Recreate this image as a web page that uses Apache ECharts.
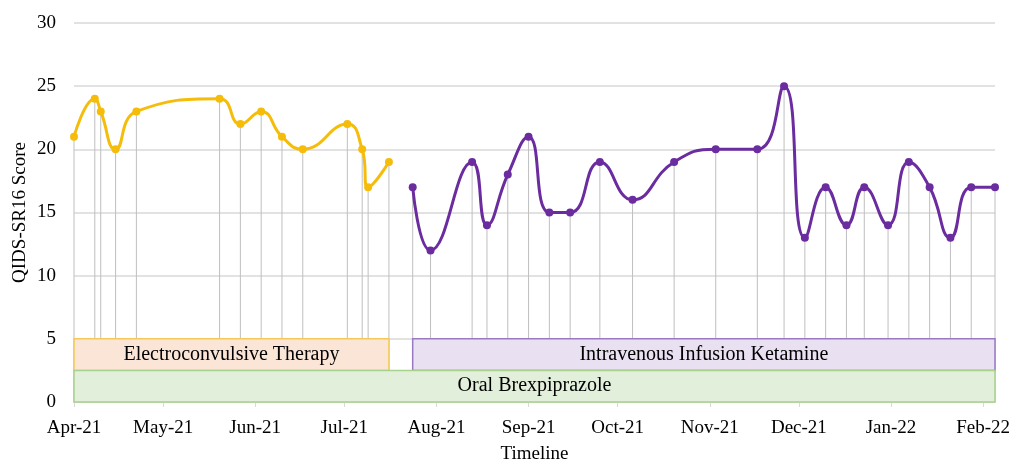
<!DOCTYPE html>
<html>
<head>
<meta charset="utf-8">
<script src="https://cdn.jsdelivr.net/npm/echarts@6/dist/echarts.min.js"></script>
<style>
  html, body { margin: 0; padding: 0; background: #fff; }
  #main { width: 1021px; height: 467px; }
</style>
</head>
<body>
<div id="main"></div>
<script>
// ECT phase scores
var ectDates = ['2021-04-01', '2021-04-08', '2021-04-10', '2021-04-15', '2021-04-22', '2021-05-20', '2021-05-27',
  '2021-06-03', '2021-06-10', '2021-06-17', '2021-07-02', '2021-07-07', '2021-07-09', '2021-07-16'];
var ectScores = [21, 24, 23, 20, 23, 24, 22, 23, 21, 20, 22, 20, 17, 19];

// ketamine phase scores
var ketDates = ['2021-07-24', '2021-07-30', '2021-08-13', '2021-08-18', '2021-08-25', '2021-09-01', '2021-09-08',
  '2021-09-15', '2021-09-25', '2021-10-06', '2021-10-20', '2021-11-03', '2021-11-17', '2021-11-26',
  '2021-12-03', '2021-12-10', '2021-12-17', '2021-12-23', '2021-12-31', '2022-01-07', '2022-01-14',
  '2022-01-21', '2022-01-28', '2022-02-05'];
var ketScores = [17, 12, 19, 14, 18, 21, 15, 15, 19, 16, 19, 20, 20, 25, 13, 17, 14, 17, 14, 19, 17, 13, 17, 17];

// month ticks
var tickDates = ['2021-04-01', '2021-05-01', '2021-06-01', '2021-07-01', '2021-08-01', '2021-09-01',
  '2021-10-01', '2021-11-01', '2021-12-01', '2022-01-01', '2022-02-01'];
var tickLabels = ['Apr-21', 'May-21', 'Jun-21', 'Jul-21', 'Aug-21', 'Sep-21', 'Oct-21', 'Nov-21', 'Dec-21', 'Jan-22', 'Feb-22'];

// treatment bands
var bandNames = ['Electroconvulsive Therapy', 'Intravenous Infusion Ketamine', 'Oral Brexpiprazole'];
var bandStart = ['2021-04-01', '2021-07-24', '2021-04-01'];
var bandEnd = ['2021-07-16', '2022-02-05', '2022-02-05'];
var bandLow = [2.5, 2.5, 0];
var bandHigh = [5, 5, 2.5];

var bandFill = ['#fbe5d6', '#e9e0f2', '#e2efda'];
var bandBorder = ['#f4c95a', '#9a78c2', '#a9d18e'];

var FONT = '"Liberation Serif", "DejaVu Serif", serif';

// day number since axis start, dates on a plain value axis
var DAY = 24 * 3600 * 1000;
var t0 = Date.UTC(2021, 3, 1);
function day(d) {
  var p = d.split('-');
  return (Date.UTC(+p[0], +p[1] - 1, +p[2]) - t0) / DAY;
}

var tickDays = tickDates.map(day);

var ectData = ectDates.map(function (d, i) { return [day(d), ectScores[i]]; });
var ketData = ketDates.map(function (d, i) { return [day(d), ketScores[i]]; });
var dropData = ectData.concat(ketData);

var areas = bandNames.map(function (n, i) {
  return [
    { name: n, xAxis: day(bandStart[i]), yAxis: bandLow[i],
      itemStyle: { color: bandFill[i], borderColor: bandBorder[i], borderWidth: 1.5 } },
    { xAxis: day(bandEnd[i]), yAxis: bandHigh[i] }
  ];
});

var chart = echarts.init(document.getElementById('main'), null, { renderer: 'canvas' });

var option = {
  animation: false,
  backgroundColor: '#fff',
  grid: { left: 74, right: 26, top: 23, bottom: 65, outerBoundsMode: 'none' },
  xAxis: {
    type: 'value',
    min: 0,
    max: day('2022-02-05'),
    name: 'Timeline',
    nameLocation: 'middle',
    nameGap: 43,
    nameMoveOverlap: false,
    nameTextStyle: { fontFamily: FONT, fontSize: 19, color: '#000' },
    axisLine: { show: true, lineStyle: { color: '#d9d9d9', width: 1 } },
    axisTick: { show: true, length: 5, lineStyle: { color: '#d9d9d9' }, customValues: tickDays },
    axisLabel: {
      customValues: tickDays,
      margin: 17,
      fontFamily: FONT,
      fontSize: 19,
      color: '#000',
      formatter: function (v) {
        var idx = tickDays.indexOf(v);
        return idx >= 0 ? tickLabels[idx] : '';
      }
    },
    splitLine: { show: false }
  },
  yAxis: {
    type: 'value',
    min: 0,
    max: 30,
    interval: 5,
    name: 'QIDS-SR16 Score',
    nameLocation: 'middle',
    nameGap: 44,
    nameMoveOverlap: false,
    nameTextStyle: { fontFamily: FONT, fontSize: 19, color: '#000' },
    axisLine: { show: false },
    axisTick: { show: false },
    axisLabel: { fontFamily: FONT, fontSize: 19, color: '#000', margin: 18 },
    splitLine: { lineStyle: { color: '#d9d9d9', width: 1.5 } }
  },
  series: [
    {
      name: 'drop',
      type: 'bar',
      data: dropData,
      barWidth: 1,
      itemStyle: { color: '#bfbfbf' },
      silent: true,
      z: 1
    },
    {
      name: 'bands',
      type: 'line',
      data: [],
      z: 3,
      markArea: {
        silent: true,
        z: 4,
        label: {
          show: true,
          position: 'inside',
          fontFamily: FONT,
          fontSize: 20,
          color: '#000'
        },
        data: areas
      }
    },
    {
      name: 'ECT',
      type: 'line',
      data: ectData,
      smooth: 0.5,
      symbol: 'circle',
      symbolSize: 8,
      lineStyle: { color: '#f5bd0a', width: 3 },
      itemStyle: { color: '#f5bd0a' },
      z: 5
    },
    {
      name: 'Ketamine',
      type: 'line',
      data: ketData,
      smooth: 0.5,
      symbol: 'circle',
      symbolSize: 8,
      lineStyle: { color: '#6a2c9e', width: 3 },
      itemStyle: { color: '#6a2c9e' },
      z: 5
    }
  ]
};

chart.setOption(option);
</script>
</body>
</html>
